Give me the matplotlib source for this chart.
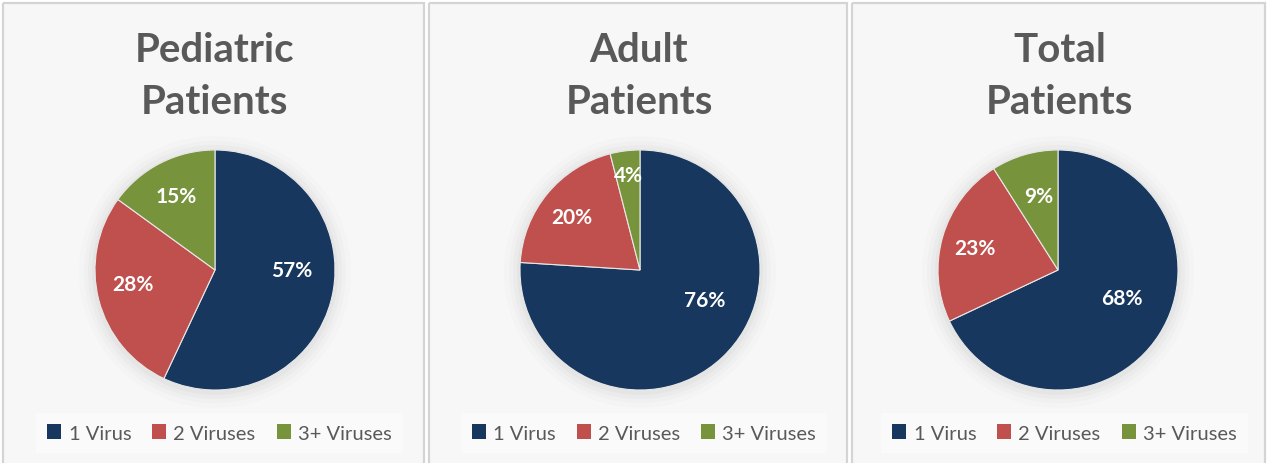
import matplotlib
matplotlib.use("Agg")
import matplotlib.pyplot as plt
from matplotlib.patches import Rectangle, Circle, Patch
import numpy as np

# ---- data ----
categories = ["1 Virus", "2 Viruses", "3+ Viruses"]
titles = ["Pediatric\nPatients", "Adult\nPatients", "Total\nPatients"]
pediatric = [57, 28, 15]
adult = [76, 20, 4]
total = [68, 23, 9]
series = [pediatric, adult, total]

colors = ["#17375E", "#C0504D", "#77933C"]

W, H = 1267, 464
fig = plt.figure(figsize=(W / 100, H / 100), dpi=100)
fig.patch.set_facecolor("white")
plt.rcParams["hatch.linewidth"] = 0.9
plt.rcParams["hatch.color"] = "#e6e6e6"

FONT = ["Lato", "DejaVu Sans"]

# panel boxes in pixels (left, right)
panels = [(3, 424), (429, 847), (852, 1265)]
pie_centers = [215, 640, 1058]
pie_cy = 271
R = 120

# label anchors in pie-radius units (layout only)
label_xy = [
    [(0.64, 0.0), (-0.68, -0.12), (-0.32, 0.62)],
    [(0.54, -0.25), (-0.57, 0.44), (-0.10, 0.79)],
    [(0.53, -0.23), (-0.69, 0.18), (-0.16, 0.62)],
]

bg = fig.add_axes([0, 0, 1, 1])
bg.set_xlim(0, W)
bg.set_ylim(H, 0)
bg.axis("off")

for (l, r) in panels:
    bg.add_patch(Rectangle((l, 4), r - l, H + 10, facecolor="#f7f7f7",
                           edgecolor="none", hatch="\\\\\\", zorder=1))
    bg.add_patch(Rectangle((l, 4), r - l, H + 10, facecolor="none",
                           edgecolor="#d4d4d4", linewidth=1.6, zorder=2))

for i, (vals, title, cx) in enumerate(zip(series, titles, pie_centers)):
    l, r = panels[i]
    pcx = (l + r) / 2
    # titles
    lines = title.split("\n")
    bg.text(pcx + 1, 50, lines[0], ha="center", va="center", fontsize=29,
            fontweight="bold", color="#595959", family=FONT, zorder=5)
    bg.text(pcx + 1, 103, lines[1], ha="center", va="center", fontsize=29,
            fontweight="bold", color="#595959", family=FONT, zorder=5)
    # soft shadow
    for k, a in zip([16, 11, 7, 3], [0.03, 0.04, 0.05, 0.07]):
        bg.add_patch(Circle((cx, pie_cy + 2), R + k, facecolor="#9a9a9a",
                            edgecolor="none", alpha=a, zorder=3))
    ax = fig.add_axes([(cx - R) / W, (H - pie_cy - R) / H, 2 * R / W, 2 * R / H])
    ax.set_zorder(4)
    ax.patch.set_alpha(0)
    wedges, _ = ax.pie(vals, colors=colors, startangle=90, counterclock=False,
                       radius=1.0, wedgeprops=dict(edgecolor="#e8e8e8", linewidth=0.8))
    ax.set_xlim(-1, 1)
    ax.set_ylim(-1, 1)
    ax.set_aspect("equal")
    ax.axis("off")
    for v, (lx, ly) in zip(vals, label_xy[i]):
        ax.text(lx, ly, f"{v}%", ha="center", va="center", fontsize=15,
                fontweight="bold", color="white", family=FONT)
    # legend
    handles = [Patch(facecolor=c, edgecolor="none") for c in colors]
    leg = fig.legend(handles, categories, loc="center",
                     bbox_to_anchor=((pcx + 6) / W, (H - 434) / H),
                     ncol=3, frameon=True, handlelength=0.7,
                     handleheight=0.7, handletextpad=0.35, columnspacing=1.05,
                     borderpad=0.35, prop=dict(family=FONT, size=14.5))
    leg.get_frame().set_facecolor("#fafafa")
    leg.get_frame().set_edgecolor("none")
    leg.get_frame().set_alpha(1)
    leg.get_frame().set_boxstyle("square", pad=0.2)
    for t in leg.get_texts():
        t.set_color("#595959")

fig.savefig("out.png", dpi=100, facecolor="white")
